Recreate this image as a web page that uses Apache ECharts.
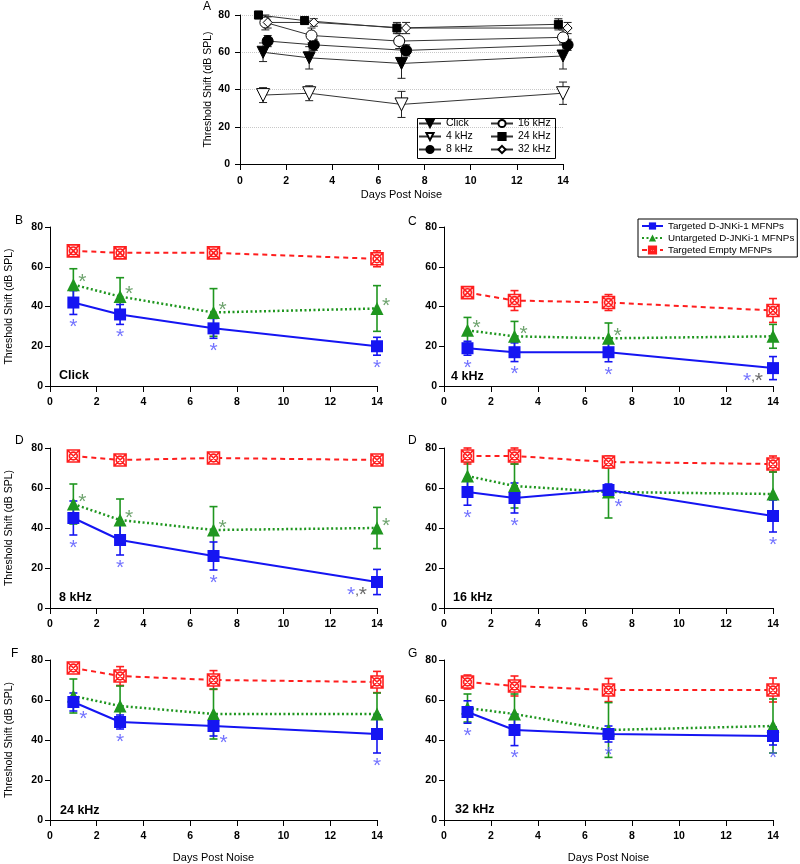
<!DOCTYPE html>
<html>
<head>
<meta charset="utf-8">
<script src="https://cdn.jsdelivr.net/npm/echarts@6/dist/echarts.min.js"></script>
<style>html,body{margin:0;padding:0;background:#fff}#c{width:800px;height:864px}</style>
</head>
<body>
<div id="c"></div>
<script>
// ---------------- DATA ----------------
const days = [1, 3, 7, 14];
const xTicks = [0, 2, 4, 6, 8, 10, 12, 14];
const yTicks = [0, 20, 40, 60, 80];

// Panel A (untreated, noise exposed), slightly jittered days
const aClickDays = [1, 3, 7, 14];       const aClick = [60, 57, 54, 58]; const aClickErr = [5, 6, 8, 7];
const a4kDays = [1, 3, 7, 14];          const a4k = [37, 38, 32, 38];    const a4kErr = [4, 4, 7, 6];
const a8kDays = [1.2, 3.2, 7.2, 14.2];  const a8k = [66, 64, 61, 64];    const a8kErr = [3, 3, 3, 3];
const a16kDays = [1.1, 3.1, 6.9, 14];   const a16k = [76, 69, 66, 68];   const a16kErr = [4, 4, 4, 4];
const a24kDays = [0.8, 2.8, 6.8, 13.8]; const a24k = [80, 77, 73, 75];   const a24kErr = [2, 2, 3, 3];
const a32kDays = [1.2, 3.2, 7.2, 14.2]; const a32k = [76, 76, 73, 73];   const a32kErr = [3, 2, 3, 3];

// Panels B-G
const clickBlue = [42, 36, 29, 20];  const clickBlueErr = [6, 5, 5, 4.5];
const clickGreen = [51, 45, 37, 39]; const clickGreenErr = [8, 9.5, 12, 11.5];
const clickRed = [68, 67, 67, 64];   const clickRedErr = [2, 2, 2, 4];
const clickBlueSig = ['b', 'b', 'b', 'b']; const clickGreenSig = ['r', 'r', 'r', 'r'];

const k4Blue = [19, 17, 17, 9];   const k4BlueErr = [3.5, 4.7, 4.8, 5.8];
const k4Green = [28, 25, 24, 25]; const k4GreenErr = [6.5, 7.5, 7.7, 6];
const k4Red = [47, 43, 42, 38];   const k4RedErr = [2, 5, 4, 6];
const k4BlueSig = ['b', 'b', 'b', 'c']; const k4GreenSig = ['r', 'r', 'r', ''];

const k8Blue = [45, 34, 26, 13];  const k8BlueErr = [8.5, 7.5, 7, 6.3];
const k8Green = [52, 44, 39, 40]; const k8GreenErr = [10, 10.5, 11.7, 10.3];
const k8Red = [76, 74, 75, 74];   const k8RedErr = [1.5, 1.5, 1.5, 1.5];
const k8BlueSig = ['b', 'b', 'b', 'c']; const k8GreenSig = ['r', 'r', 'r', 'r'];

const k16Blue = [58, 55, 59, 46];  const k16BlueErr = [6.6, 7.5, 3, 8];
const k16Green = [66, 61, 58, 57]; const k16GreenErr = [7, 11, 13, 11];
const k16Red = [76, 76, 73, 72];   const k16RedErr = [4, 4, 3, 4];
const k16BlueSig = ['b', 'b', 'r', 'b']; const k16GreenSig = ['', '', '', ''];

const k24Blue = [59, 49, 47, 43];  const k24BlueErr = [4.5, 3.5, 5, 9.5];
const k24Green = [62, 57, 53, 53]; const k24GreenErr = [8.5, 10, 12.5, 10.5];
const k24Red = [76, 72, 70, 69];   const k24RedErr = [2, 4.7, 4.7, 5.3];
const k24BlueSig = ['r', 'b', 'r', 'b']; const k24GreenSig = ['', '', '', ''];

const k32Blue = [54, 45, 43, 42];  const k32BlueErr = [5.6, 7.8, 4, 4.5];
const k32Green = [56, 53, 45, 47]; const k32GreenErr = [7, 10, 13.7, 13.5];
const k32Red = [69, 67, 65, 65];   const k32RedErr = [3.5, 5, 5.8, 6];
const k32BlueSig = ['b', 'b', 'b', 'b']; const k32GreenSig = ['', '', '', ''];

const seriesNames = ['Targeted D-JNKi-1 MFNPs', 'Untargeted D-JNKi-1 MFNPs', 'Targeted Empty MFNPs'];
const aNames = ['Click', '4 kHz', '8 kHz', '16 kHz', '24 kHz', '32 kHz'];
const panelLabels = ['Click', '4 kHz', '8 kHz', '16 kHz', '24 kHz', '32 kHz'];

// ---------------- STYLE / LAYOUT ----------------
const FONT = '"Liberation Sans", Arial, Helvetica, sans-serif';
const BLUE = '#1515f2', GREEN = '#1f961f', RED = '#ff1e1e';
const BLUE_STAR = '#5050ff', GREEN_STAR = '#4a8c4a', GRAY_STAR = '#444';
const RED_SYMBOL = 'path://M0,0H20V20H0Z M0,0L20,20 M20,0L0,20 M16.5,10A6.5,6.5 0 1,1 3.5,10A6.5,6.5 0 1,1 16.5,10';

const grids = [
  {left: 240, top: 15, width: 323, height: 149},   // A
  {left: 50, top: 227, width: 327, height: 159},   // B Click
  {left: 444, top: 227, width: 329, height: 159},  // C 4k
  {left: 50, top: 448, width: 327, height: 160},   // D 8k
  {left: 444, top: 448, width: 329, height: 160},  // 16k
  {left: 50, top: 660, width: 327, height: 160},   // F 24k
  {left: 444, top: 660, width: 329, height: 160}   // G 32k
];

function xAxisCfg(gi) {
  const named = gi === 0 || gi === 5 || gi === 6;
  return {
    type: 'value', gridIndex: gi, min: xTicks[0], max: xTicks[xTicks.length - 1], interval: 2,
    axisLine: {show: true, onZero: false, lineStyle: {color: '#000', width: 1}},
    axisTick: {show: true, inside: false, length: 6, lineStyle: {color: '#000'}},
    axisLabel: {color: '#000', fontFamily: FONT, fontSize: 10.5, fontWeight: 'bold', margin: gi === 0 ? 12 : 11},
    splitLine: {show: false},
    name: named ? 'Days Post Noise' : '', nameLocation: 'middle', nameGap: gi === 0 ? 25 : 32,
    nameTextStyle: {color: '#000', fontFamily: FONT, fontSize: 11}
  };
}
function yAxisCfg(gi) {
  const named = gi === 0 || gi === 1 || gi === 3 || gi === 5;
  return {
    type: 'value', gridIndex: gi, min: yTicks[0], max: yTicks[yTicks.length - 1], interval: 20,
    axisLine: {show: true, onZero: false, lineStyle: {color: '#000', width: 1}},
    axisTick: {show: true, inside: false, length: 5, lineStyle: {color: '#000'}},
    axisLabel: {color: '#000', fontFamily: FONT, fontSize: 10.5, fontWeight: 'bold', margin: gi === 0 ? 10 : 7},
    splitLine: {show: gi === 0, lineStyle: {color: '#c8c8c8', type: 'dotted', width: 1}},
    name: named ? 'Threshold Shift (dB SPL)' : '', nameLocation: 'middle', nameGap: gi === 0 ? 26 : 35,
    nameTextStyle: {color: '#000', fontFamily: FONT, fontSize: 10.5}
  };
}

function errRender(color, lw, cap) {
  return function (params, api) {
    const x = api.value(0), lo = api.value(1), hi = api.value(2);
    const p1 = api.coord([x, lo]), p2 = api.coord([x, hi]);
    const st = {stroke: color, lineWidth: lw};
    return {type: 'group', children: [
      {type: 'line', shape: {x1: p1[0], y1: p1[1], x2: p2[0], y2: p2[1]}, style: st},
      {type: 'line', shape: {x1: p1[0] - cap, y1: p1[1], x2: p1[0] + cap, y2: p1[1]}, style: st},
      {type: 'line', shape: {x1: p2[0] - cap, y1: p2[1], x2: p2[0] + cap, y2: p2[1]}, style: st}
    ]};
  };
}
function errSeries(gi, xs, means, errs, color, lw, cap, z) {
  return {
    type: 'custom', xAxisIndex: gi, yAxisIndex: gi, clip: false, z: z, silent: true,
    encode: {x: 0, y: [1, 2]},
    data: xs.map((x, i) => [x, means[i] - errs[i], means[i] + errs[i]]),
    renderItem: errRender(color, lw, cap)
  };
}

const series = [];

// Panel A
const aDefs = [
  {name: aNames[0], xs: aClickDays, ys: aClick, err: aClickErr, symbol: 'triangle', rot: 180, size: 12, fill: '#000'},
  {name: aNames[1], xs: a4kDays, ys: a4k, err: a4kErr, symbol: 'triangle', rot: 180, size: 13, fill: '#fff'},
  {name: aNames[2], xs: a8kDays, ys: a8k, err: a8kErr, symbol: 'circle', rot: 0, size: 11, fill: '#000'},
  {name: aNames[3], xs: a16kDays, ys: a16k, err: a16kErr, symbol: 'circle', rot: 0, size: 11, fill: '#fff'},
  {name: aNames[4], xs: a24kDays, ys: a24k, err: a24kErr, symbol: 'rect', rot: 0, size: 8, fill: '#000'},
  {name: aNames[5], xs: a32kDays, ys: a32k, err: a32kErr, symbol: 'diamond', rot: 0, size: 9, fill: '#fff'}
];
aDefs.forEach(d => {
  series.push(errSeries(0, d.xs, d.ys, d.err, '#222', 1, 4, 2));
  series.push({
    type: 'line', name: d.name, xAxisIndex: 0, yAxisIndex: 0, clip: false, z: 3,
    data: d.xs.map((x, i) => [x, d.ys[i]]),
    symbol: d.symbol, symbolRotate: d.rot, symbolSize: d.size, showSymbol: true,
    itemStyle: {color: d.fill, borderColor: '#000', borderWidth: 1},
    lineStyle: {color: '#333', width: 1}
  });
});

// Panels B-G
const panels = [
  {gi: 1, blue: clickBlue, blueErr: clickBlueErr, green: clickGreen, greenErr: clickGreenErr, red: clickRed, redErr: clickRedErr, bSig: clickBlueSig, gSig: clickGreenSig},
  {gi: 2, blue: k4Blue, blueErr: k4BlueErr, green: k4Green, greenErr: k4GreenErr, red: k4Red, redErr: k4RedErr, bSig: k4BlueSig, gSig: k4GreenSig},
  {gi: 3, blue: k8Blue, blueErr: k8BlueErr, green: k8Green, greenErr: k8GreenErr, red: k8Red, redErr: k8RedErr, bSig: k8BlueSig, gSig: k8GreenSig},
  {gi: 4, blue: k16Blue, blueErr: k16BlueErr, green: k16Green, greenErr: k16GreenErr, red: k16Red, redErr: k16RedErr, bSig: k16BlueSig, gSig: k16GreenSig},
  {gi: 5, blue: k24Blue, blueErr: k24BlueErr, green: k24Green, greenErr: k24GreenErr, red: k24Red, redErr: k24RedErr, bSig: k24BlueSig, gSig: k24GreenSig},
  {gi: 6, blue: k32Blue, blueErr: k32BlueErr, green: k32Green, greenErr: k32GreenErr, red: k32Red, redErr: k32RedErr, bSig: k32BlueSig, gSig: k32GreenSig}
];

const STAR_FONT = 21;
panels.forEach(p => {
  const gi = p.gi;
  series.push(errSeries(gi, days, p.red, p.redErr, RED, 1.6, 4, 2));
  series.push(errSeries(gi, days, p.green, p.greenErr, GREEN, 1.6, 4, 2));
  series.push(errSeries(gi, days, p.blue, p.blueErr, BLUE, 1.6, 4, 2));
  series.push({
    type: 'line', name: seriesNames[2], xAxisIndex: gi, yAxisIndex: gi, z: 3,
    data: days.map((x, i) => [x, p.red[i]]),
    symbol: RED_SYMBOL, symbolSize: 12, showSymbol: true,
    itemStyle: {color: '#fff', borderColor: RED, borderWidth: 1.6},
    lineStyle: {color: RED, width: 2, type: [5, 4]}
  });
  series.push({
    type: 'line', name: seriesNames[1], xAxisIndex: gi, yAxisIndex: gi, z: 4,
    data: days.map((x, i) => [x, p.green[i]]),
    symbol: 'triangle', symbolSize: 13, showSymbol: true,
    itemStyle: {color: GREEN},
    lineStyle: {color: GREEN, width: 2.5, type: [2, 2.5]}
  });
  series.push({
    type: 'line', name: seriesNames[0], xAxisIndex: gi, yAxisIndex: gi, z: 5,
    data: days.map((x, i) => [x, p.blue[i]]),
    symbol: 'rect', symbolSize: 12, showSymbol: true,
    itemStyle: {color: BLUE},
    lineStyle: {color: BLUE, width: 2}
  });
  // significance asterisks
  const stars = [];
  days.forEach((x, i) => {
    const s = p.bSig[i];
    if (s === 'b') stars.push({value: [x, p.blue[i] - p.blueErr[i]], label: {offset: [0, 13], color: BLUE_STAR, formatter: '*'}});
    else if (s === 'r') stars.push({value: [x, p.blue[i]], label: {offset: [10, 17], color: BLUE_STAR, formatter: '*'}});
    else if (s === 'c') stars.push({value: [x, p.blue[i]], label: {offset: [-20, 13], formatter: '{b|*}{k|,}{g|*}'}});
    const g = p.gSig[i];
    if (g === 'r') stars.push({value: [x, p.green[i]], label: {offset: [9, -2], color: GREEN_STAR, formatter: '*'}});
  });
  series.push({
    type: 'scatter', xAxisIndex: gi, yAxisIndex: gi, z: 6, silent: true, clip: false,
    symbolSize: 0, data: stars,
    label: {show: true, position: 'inside', fontFamily: FONT, fontSize: STAR_FONT,
      rich: {
        b: {color: BLUE_STAR, fontSize: STAR_FONT, fontFamily: FONT},
        k: {color: '#222', fontSize: 13, fontFamily: FONT, verticalAlign: 'top'},
        g: {color: GRAY_STAR, fontSize: STAR_FONT, fontFamily: FONT}
      }}
  });
});

const graphic = [
  {type: 'text', left: 203, top: 1, style: {text: 'A', fontFamily: FONT, fontSize: 12, fill: '#000'}},
  {type: 'text', left: 15, top: 215, style: {text: 'B', fontFamily: FONT, fontSize: 12, fill: '#000'}},
  {type: 'text', left: 408, top: 216, style: {text: 'C', fontFamily: FONT, fontSize: 12, fill: '#000'}},
  {type: 'text', left: 15, top: 435, style: {text: 'D', fontFamily: FONT, fontSize: 12, fill: '#000'}},
  {type: 'text', left: 408, top: 435, style: {text: 'D', fontFamily: FONT, fontSize: 12, fill: '#000'}},
  {type: 'text', left: 11, top: 648, style: {text: 'F', fontFamily: FONT, fontSize: 12, fill: '#000'}},
  {type: 'text', left: 408, top: 648, style: {text: 'G', fontFamily: FONT, fontSize: 12, fill: '#000'}},
  {type: 'rect', left: 415, top: 116, shape: {width: 138, height: 40}, style: {fill: 'none', stroke: '#000', lineWidth: 1}, z: 10}
];
const labelPos = [[59, 369], [451, 370], [59, 591], [453, 591], [60, 804], [455, 803]];
panelLabels.forEach((t, i) => {
  graphic.push({type: 'text', left: labelPos[i][0], top: labelPos[i][1],
    style: {text: t, fontFamily: FONT, fontSize: 12.5, fontWeight: 'bold', fill: '#000'}});
});

const legendText = {fontFamily: FONT, fontSize: 10.5, color: '#000'};
const option = {
  animation: false,
  backgroundColor: '#fff',
  grid: grids.map(g => Object.assign({containLabel: false}, g)),
  xAxis: grids.map((g, i) => xAxisCfg(i)),
  yAxis: grids.map((g, i) => yAxisCfg(i)),
  legend: [
    {data: seriesNames, orient: 'vertical', left: 638, top: 219, padding: [2, 3, 2, 3], itemGap: 2,
      itemWidth: 21, itemHeight: 9, borderColor: '#000', borderWidth: 1, backgroundColor: '#fff',
      textStyle: {fontFamily: FONT, fontSize: 9.8, color: '#000'}, selectedMode: false},
    {data: aNames.slice(0, 3), orient: 'vertical', left: 418, top: 118, padding: 0, itemGap: 2,
      itemWidth: 22, itemHeight: 9, textStyle: legendText, selectedMode: false},
    {data: aNames.slice(3, 6), orient: 'vertical', left: 490, top: 118, padding: 0, itemGap: 2,
      itemWidth: 22, itemHeight: 9, textStyle: legendText, selectedMode: false}
  ],
  graphic: graphic,
  series: series
};

const chart = echarts.init(document.getElementById('c'), null, {renderer: 'canvas', width: 800, height: 864});
chart.setOption(option);
</script>
</body>
</html>
